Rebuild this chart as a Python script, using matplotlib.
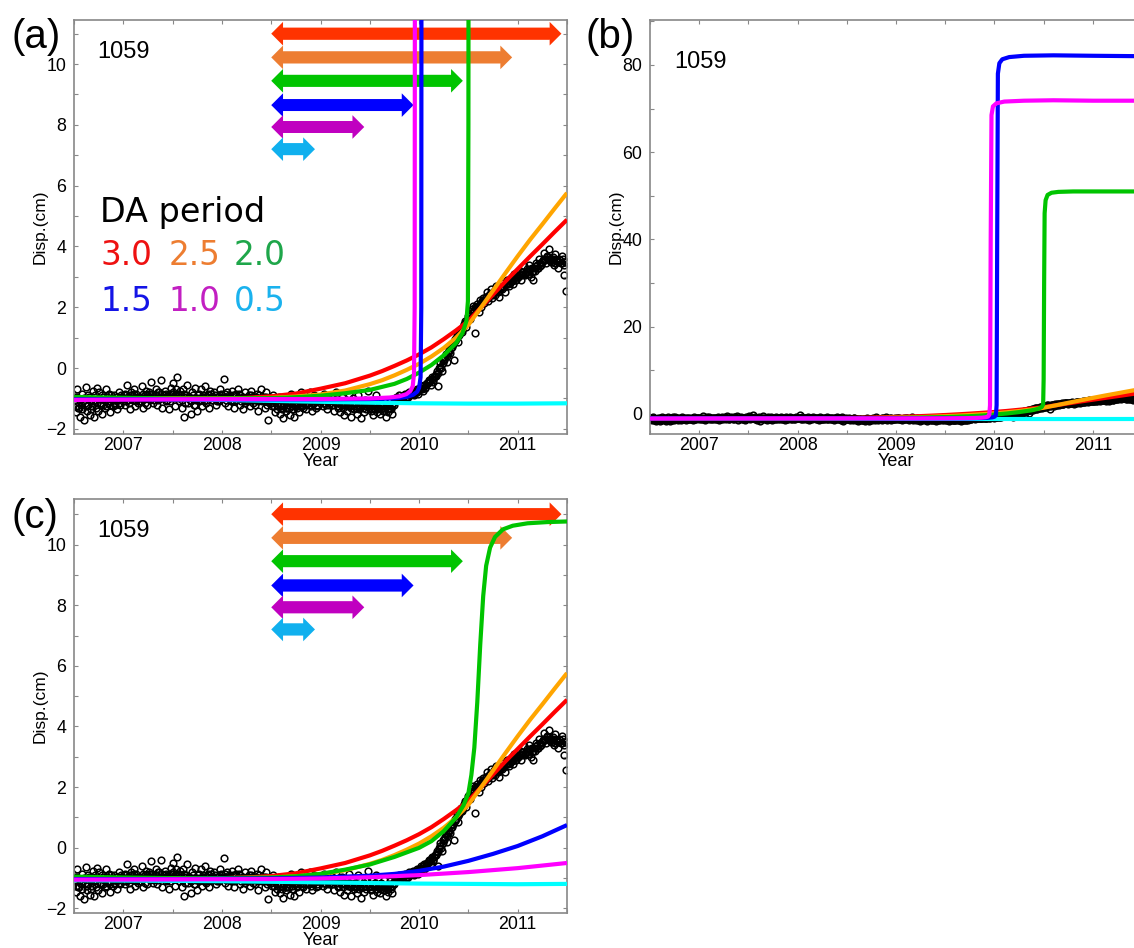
import matplotlib
matplotlib.use('Agg')
import matplotlib.pyplot as plt
import numpy as np
from matplotlib.patches import FancyArrowPatch, ArrowStyle
from matplotlib.ticker import MultipleLocator, FuncFormatter

plt.rcParams.update({
    'font.family': ['Liberation Sans', 'DejaVu Sans'],
    'font.size': 12.5,
    'axes.linewidth': 1.2,
})

# ---------------- data ----------------
# GPS observations, evenly sampled from mid-2006 to mid-2011 (6 per month, two interleaved sets)
OBS_START, OBS_END = 2006.5, 2011.5
OBS_DISP = [
    -0.95, -1.45, -0.70, -1.30, -1.60, -0.85,
    -1.10, -1.70, -0.62, -1.25, -0.90, -1.55,
    -1.35, -0.75, -1.60, -1.05, -0.65, -1.40,
    -0.80, -1.20, -1.50, -0.95, -1.30, -0.70,
    -1.15, -0.85, -1.45, -1.00, -1.25, -0.90,
    -1.05, -1.35, -0.80, -1.20, -0.95, -1.10,
    -0.90, -1.20, -0.55, -1.05, -1.35, -0.80,
    -1.00, -0.70, -1.25, -0.85, -1.15, -0.95,
    -1.10, -0.60, -1.30, -0.90, -0.75, -1.20,
    -0.85, -1.05, -0.45, -1.15, -0.95, -0.70,
    -1.20, -0.80, -1.00, -0.40, -1.30, -0.90,
    -0.75, -1.10, -0.95, -1.35, -0.65, -1.00,
    -0.50, -1.25, -0.85, -0.30, -1.10, -0.95,
    -1.30, -0.70, -1.60, -0.90, -0.55, -1.15,
    -1.05, -1.50, -0.80, -1.20, -0.65, -1.40,
    -0.90, -1.10, -0.70, -1.25, -0.95, -0.60,
    -1.15, -0.85, -1.30, -0.75, -1.05, -0.95,
    -0.80, -1.20, -0.95, -1.10, -0.70, -1.00,
    -0.95, -0.35, -1.15, -0.80, -1.25, -1.00,
    -1.10, -0.75, -1.30, -0.90, -1.05, -0.70,
    -0.85, -1.20, -1.00, -1.35, -0.80, -1.10,
    -1.05, -0.90, -1.25, -0.75, -1.15, -0.95,
    -1.20, -0.85, -1.40, -1.00, -0.70, -1.10,
    -0.95, -1.30, -0.80, -1.70, -1.10, -1.00,
    -1.25, -0.90, -1.45, -1.10, -1.35, -0.95,
    -1.50, -1.20, -1.65, -1.05, -1.40, -1.30,
    -1.10, -1.55, -0.85, -1.35, -1.60, -1.20,
    -1.30, -1.00, -1.45, -0.80, -1.25, -1.15,
    -1.05, -1.35, -0.95, -1.20, -0.80, -1.40,
    -1.15, -0.90, -1.30, -1.05, -1.25, -0.95,
    -1.00, -1.25, -0.85, -1.15, -1.35, -0.95,
    -1.20, -0.90, -1.10, -1.40, -1.05, -0.80,
    -1.30, -1.05, -1.45, -0.95, -1.20, -1.55,
    -1.10, -1.40, -0.85, -1.25, -1.60, -1.00,
    -1.35, -1.15, -1.50, -0.90, -1.30, -1.65,
    -1.20, -1.45, -1.05, -1.35, -0.75, -1.25,
    -1.40, -1.10, -1.55, -1.25, -0.90, -1.45,
    -1.30, -1.50, -1.15, -1.40, -1.05, -1.60,
    -1.25, -1.45, -1.10, -1.35, -1.50, -1.20,
    -1.05, -0.95, -1.00, -0.90, -1.00, -0.95,
    -0.95, -0.85, -0.90, -1.00, -0.80, -0.90,
    -0.85, -0.75, -0.90, -0.80, -0.70, -0.85,
    -0.70, -0.60, -0.75, -0.55, -0.65, -0.50,
    -0.50, -0.40, -0.55, -0.30, -0.45, -0.25,
    -0.20, -0.60, 0.00, 0.15, -0.10, 0.25,
    0.30, 0.45, 0.20, 0.60, 0.50, 0.75,
    0.80, 0.25, 0.95, 1.10, 0.85, 1.25,
    1.30, 1.20, 1.45, 1.55, 1.35, 1.70,
    1.75, 1.60, 1.95, 2.05, 1.15, 1.90,
    2.10, 1.85, 2.25, 2.00, 2.30, 2.15,
    2.35, 2.50, 2.20, 2.45, 2.60, 2.30,
    2.55, 2.40, 2.70, 2.50, 2.35, 2.65,
    2.60, 2.80, 2.50, 2.75, 2.90, 2.70,
    2.85, 3.00, 2.75, 3.10, 2.90, 3.05,
    3.00, 3.20, 2.90, 3.15, 3.35, 3.05,
    3.25, 3.10, 3.40, 3.00, 3.30, 2.90,
    3.20, 3.45, 3.30, 3.60, 3.35, 3.50,
    3.55, 3.80, 3.45, 3.70, 3.90, 3.60,
    3.50, 3.65, 3.40, 3.75, 3.55, 3.30,
    3.60, 3.45, 3.70, 3.05, 3.50, 2.55,
]
OBS_DISP_B = [
    -1.10, -1.25, -0.95, -1.30, -1.05, -1.20,
    -1.35, -1.00, -1.15, -1.40, -1.20, -0.95,
    -1.05, -1.25, -1.10, -0.90, -1.30, -1.15,
    -1.00, -1.15, -0.90, -1.20, -1.05, -1.25,
    -0.95, -1.10, -1.20, -0.90, -1.05, -1.15,
    -1.20, -0.95, -1.05, -1.15, -0.90, -1.00,
    -1.00, -0.85, -1.10, -0.95, -1.15, -0.90,
    -0.90, -1.05, -0.85, -1.10, -0.95, -1.00,
    -0.95, -1.10, -0.85, -1.00, -1.15, -0.90,
    -1.00, -0.80, -0.95, -0.85, -1.05, -0.90,
    -0.90, -1.05, -0.80, -0.95, -0.85, -1.00,
    -0.95, -0.85, -1.05, -0.90, -1.10, -0.85,
    -0.80, -0.95, -0.70, -1.00, -0.85, -0.75,
    -0.90, -1.05, -0.85, -1.15, -0.95, -1.00,
    -0.95, -1.10, -1.00, -0.90, -1.20, -1.05,
    -1.00, -0.85, -1.05, -0.95, -0.90, -1.10,
    -0.95, -1.05, -0.90, -1.00, -0.85, -1.05,
    -1.00, -0.90, -1.10, -0.95, -1.05, -0.85,
    -0.90, -1.00, -0.85, -1.05, -0.95, -0.90,
    -0.95, -1.05, -0.90, -1.10, -0.85, -1.00,
    -1.00, -0.90, -1.10, -0.95, -1.05, -1.15,
    -0.95, -1.10, -1.00, -0.90, -1.05, -0.95,
    -1.05, -0.95, -1.10, -0.90, -1.00, -1.05,
    -1.00, -1.10, -0.95, -1.20, -1.05, -1.15,
    -1.15, -1.05, -1.25, -1.10, -1.20, -1.00,
    -1.25, -1.15, -1.35, -1.20, -1.10, -1.30,
    -1.20, -1.30, -1.10, -1.25, -1.35, -1.15,
    -1.15, -1.25, -1.05, -1.20, -1.10, -1.30,
    -1.10, -1.20, -1.00, -1.15, -1.05, -1.25,
    -1.05, -1.15, -1.00, -1.20, -1.10, -1.05,
    -1.10, -1.00, -1.15, -1.05, -1.20, -1.10,
    -1.05, -1.15, -1.00, -1.20, -1.10, -1.15,
    -1.15, -1.25, -1.10, -1.20, -1.30, -1.15,
    -1.20, -1.10, -1.25, -1.15, -1.30, -1.20,
    -1.25, -1.15, -1.30, -1.20, -1.35, -1.25,
    -1.20, -1.30, -1.15, -1.25, -1.10, -1.30,
    -1.25, -1.35, -1.20, -1.30, -1.15, -1.35,
    -1.30, -1.20, -1.35, -1.25, -1.40, -1.30,
    -1.25, -1.35, -1.20, -1.30, -1.25, -1.15,
    -1.00, -1.05, -0.95, -1.00, -1.05, -0.95,
    -0.95, -0.90, -0.95, -0.85, -0.95, -0.90,
    -0.85, -0.80, -0.85, -0.75, -0.80, -0.75,
    -0.70, -0.65, -0.70, -0.60, -0.65, -0.55,
    -0.50, -0.45, -0.40, -0.35, -0.40, -0.30,
    -0.25, -0.10, -0.15, 0.05, 0.00, 0.15,
    0.25, 0.35, 0.40, 0.50, 0.55, 0.65,
    0.70, 0.80, 0.90, 0.95, 1.05, 1.10,
    1.20, 1.25, 1.35, 1.40, 1.50, 1.55,
    1.65, 1.70, 1.80, 1.85, 1.90, 2.00,
    2.00, 2.05, 2.10, 2.15, 2.20, 2.25,
    2.25, 2.35, 2.30, 2.40, 2.45, 2.40,
    2.45, 2.55, 2.50, 2.60, 2.55, 2.60,
    2.65, 2.70, 2.65, 2.75, 2.80, 2.75,
    2.80, 2.90, 2.85, 2.95, 2.90, 3.00,
    3.00, 3.05, 3.10, 3.05, 3.15, 3.10,
    3.15, 3.20, 3.10, 3.25, 3.15, 3.20,
    3.30, 3.35, 3.40, 3.30, 3.45, 3.40,
    3.50, 3.60, 3.55, 3.65, 3.60, 3.55,
    3.55, 3.50, 3.60, 3.45, 3.55, 3.50,
    3.50, 3.55, 3.45, 3.60, 3.40, 3.50,
]

# model runs, DA period 3.0 / 2.5 (same in (a),(b),(c))
T_30 = [2006.5, 2007.0, 2007.5, 2008.0, 2008.25, 2008.5, 2008.75, 2009.0, 2009.25,
        2009.5, 2009.625, 2009.75, 2009.875, 2010.0, 2010.125, 2010.25, 2010.375,
        2010.5, 2010.625, 2010.75, 2010.875, 2011.0, 2011.125, 2011.25, 2011.375, 2011.5]
Y_30 = [-1.0, -1.0, -1.0, -1.0, -0.98, -0.93, -0.84, -0.68, -0.5,
        -0.25, -0.1, 0.07, 0.25, 0.45, 0.68, 0.95, 1.24,
        1.55, 1.98, 2.42, 2.85, 3.26, 3.67, 4.07, 4.48, 4.88]
T_25 = T_30
Y_25 = [-1.0, -1.0, -1.0, -1.0, -0.99, -0.98, -0.94, -0.87, -0.74,
        -0.53, -0.4, -0.24, -0.06, 0.14, 0.38, 0.66, 1.0,
        1.42, 1.98, 2.55, 3.12, 3.68, 4.22, 4.73, 5.25, 5.76]

# run shown in (a) and (b)
T_20A = [2006.5, 2007.0, 2007.5, 2008.0, 2008.5, 2008.75, 2009.0, 2009.25, 2009.5,
         2009.75, 2009.875, 2010.0, 2010.125, 2010.25, 2010.375, 2010.44, 2010.48,
         2010.495, 2010.5, 2010.505, 2010.51, 2010.52, 2010.54, 2010.58, 2010.65,
         2010.8, 2011.0, 2011.5]
Y_20A = [-0.95, -0.98, -1.0, -1.0, -0.99, -0.96, -0.91, -0.83, -0.72,
         -0.52, -0.36, -0.15, 0.1, 0.42, 0.82, 1.15, 1.55,
         2.2, 8.0, 30.0, 46.0, 49.0, 50.2, 50.7, 50.9,
         51.0, 51.0, 51.0]
T_15A = [2006.5, 2007.5, 2008.5, 2009.0, 2009.5, 2009.75, 2009.875, 2009.94, 2009.98,
         2010.0, 2010.015, 2010.022, 2010.028, 2010.035, 2010.05, 2010.08, 2010.15,
         2010.3, 2010.6, 2011.0, 2011.5]
Y_15A = [-1.03, -1.03, -1.03, -1.03, -1.02, -1.0, -0.95, -0.88, -0.78,
         -0.65, -0.3, 2.0, 40.0, 78.0, 80.4, 81.3, 81.8,
         82.1, 82.2, 82.1, 82.0]
T_10A = [2006.5, 2007.5, 2008.5, 2009.0, 2009.5, 2009.7, 2009.8, 2009.87, 2009.91,
         2009.935, 2009.948, 2009.955, 2009.962, 2009.97, 2009.985, 2010.02, 2010.1,
         2010.3, 2010.6, 2011.0, 2011.5]
Y_10A = [-1.05, -1.03, -1.02, -1.02, -1.0, -0.97, -0.93, -0.86, -0.76,
         -0.6, -0.2, 2.0, 40.0, 68.5, 70.5, 71.2, 71.6,
         71.8, 71.9, 71.8, 71.8]
T_05A = [2006.5, 2007.0, 2007.5, 2008.0, 2008.5, 2009.0, 2009.5, 2010.0, 2010.5, 2011.0, 2011.5]
Y_05A = [-1.0, -1.01, -1.03, -1.05, -1.08, -1.11, -1.14, -1.16, -1.17, -1.17, -1.16]

# run shown in (c)
T_20C = [2006.5, 2007.0, 2007.5, 2008.0, 2008.5, 2008.75, 2009.0, 2009.25, 2009.5,
         2009.75, 2010.0, 2010.125, 2010.25, 2010.375, 2010.45, 2010.5, 2010.53,
         2010.56, 2010.59, 2010.62, 2010.65, 2010.68, 2010.72, 2010.77, 2010.85,
         2010.95, 2011.1, 2011.3, 2011.5]
Y_20C = [-0.95, -0.98, -1.0, -1.0, -0.98, -0.94, -0.86, -0.72, -0.55,
         -0.3, 0.0, 0.22, 0.55, 1.0, 1.4, 1.8, 2.4,
         3.3, 4.8, 6.7, 8.3, 9.3, 9.9, 10.25, 10.5,
         10.62, 10.7, 10.74, 10.76]
T_15C = [2006.5, 2007.0, 2007.5, 2008.0, 2008.5, 2009.0, 2009.5, 2009.75, 2010.0,
         2010.25, 2010.5, 2010.75, 2011.0, 2011.25, 2011.5]
Y_15C = [-1.03, -1.03, -1.03, -1.02, -1.01, -0.98, -0.92, -0.86, -0.76,
         -0.62, -0.43, -0.2, 0.06, 0.38, 0.75]
T_10C = [2006.5, 2007.5, 2008.5, 2009.0, 2009.5, 2010.0, 2010.5, 2011.0, 2011.5]
Y_10C = [-1.05, -1.04, -1.03, -1.01, -0.97, -0.9, -0.8, -0.67, -0.5]
T_05C = [2006.5, 2007.0, 2007.5, 2008.0, 2008.5, 2009.0, 2009.5, 2010.0, 2010.5, 2011.0, 2011.5]
Y_05C = [-1.07, -1.08, -1.09, -1.1, -1.12, -1.14, -1.16, -1.18, -1.19, -1.2, -1.19]

# DA windows (arrows)
DA_START = 2008.5
DA_PERIODS = [3.0, 2.5, 2.0, 1.5, 1.0, 0.5]
DA_LABELS = ['3.0', '2.5', '2.0', '1.5', '1.0', '0.5']
ARROW_Y = [11.0, 10.22, 9.45, 8.65, 7.93, 7.2]

LINE_COLORS = ['#ff0000', '#ffa500', '#00c400', '#0000ff', '#ff00ff', '#00ffff']
ARROW_COLORS = ['#ff3300', '#ed7d31', '#00c400', '#0000ff', '#c000c0', '#10b0ee']
TEXT_COLORS = ['#ee1111', '#ed7d31', '#1ea64a', '#1414e6', '#c21fc2', '#1ab2ee']
SPINE = '#888888'

obs_step = (OBS_END - OBS_START) / len(OBS_DISP)
obs_t = OBS_START + (np.arange(len(OBS_DISP)) + 0.5) * obs_step
obs_t_b = OBS_START + np.arange(len(OBS_DISP_B)) * obs_step + 0.1 * obs_step


def style_axes(ax, ylim, ymaj, ymin):
    ax.set_xlim(2006.5, 2011.5)
    ax.set_ylim(*ylim)
    ax.xaxis.set_major_locator(MultipleLocator(1))
    ax.xaxis.set_minor_locator(MultipleLocator(0.5))
    ax.yaxis.set_major_locator(MultipleLocator(ymaj))
    ax.yaxis.set_minor_locator(MultipleLocator(ymin))
    ax.xaxis.set_major_formatter(FuncFormatter(lambda v, p: f'{v:.0f}'))
    ax.tick_params(which='both', direction='in', top=True, right=True,
                   length=3, width=0.8, color=SPINE, labelsize=12.8)
    ax.tick_params(axis='x', pad=2.5)
    ax.tick_params(axis='y', pad=5.5)
    for s in ax.spines.values():
        s.set_color(SPINE)
        s.set_linewidth(1.2)
    ax.set_xlabel('Year', fontsize=13)
    ax.xaxis.set_label_coords(0.5, -0.047)
    ax.set_ylabel('Disp.(cm)', fontsize=12.5)
    ax.yaxis.set_label_coords(-0.053, 0.5)


def draw_runs(ax, runs):
    for t, y in ((obs_t, OBS_DISP), (obs_t_b, OBS_DISP_B)):
        ax.plot(t, y, 'o', ms=4.8, mfc='none', mec='k', mew=1.1, zorder=2)
    # cyan first, magenta last (on top)
    for i in [5, 0, 1, 2, 3, 4]:
        t, y = runs[i]
        ax.plot(t, y, color=LINE_COLORS[i], lw=3, solid_capstyle='butt', zorder=3)


def draw_arrows(ax):
    head = 8.5
    style = ArrowStyle.Simple(head_length=head, head_width=17, tail_width=8.5)
    for period, y, col in zip(DA_PERIODS, ARROW_Y, ARROW_COLORS):
        x0, x1 = DA_START, DA_START + period
        # each head gets its own patch, the shafts overlap completely
        for xa, xb, sa, sb in ((x1, x0, head + 4, 0), (x0, x1, head, 4)):
            ax.add_patch(FancyArrowPatch((xa, y), (xb, y), arrowstyle=style,
                                         mutation_scale=1, shrinkA=sa, shrinkB=sb,
                                         lw=0, color=col, zorder=1.5))


runs_ab = [(T_30, Y_30), (T_25, Y_25), (T_20A, Y_20A),
           (T_15A, Y_15A), (T_10A, Y_10A), (T_05A, Y_05A)]
runs_c = [(T_30, Y_30), (T_25, Y_25), (T_20C, Y_20C),
          (T_15C, Y_15C), (T_10C, Y_10C), (T_05C, Y_05C)]

fig = plt.figure(figsize=(11.34, 9.48), dpi=100)
ax_a = fig.add_axes([0.0653, 0.5422, 0.4347, 0.4367])
ax_b = fig.add_axes([0.5732, 0.5422, 0.4339, 0.4367])
ax_c = fig.add_axes([0.0653, 0.0369, 0.4347, 0.4367])

# (a)
draw_runs(ax_a, runs_ab)
draw_arrows(ax_a)
style_axes(ax_a, (-2.17, 11.45), 2, 1)
ax_a.text(0.047, 0.923, '1059', transform=ax_a.transAxes, fontsize=17, va='center')
ax_a.text(0.052, 0.534, 'DA period', transform=ax_a.transAxes, fontsize=24,
          va='center', family='DejaVu Sans')
label_x = [0.054, 0.192, 0.324]
label_y = [0.430, 0.319]
for k, (lab, col) in enumerate(zip(DA_LABELS, TEXT_COLORS)):
    ax_a.text(label_x[k % 3], label_y[k // 3], lab, transform=ax_a.transAxes,
              fontsize=23.5, color=col, va='center', family='DejaVu Sans')

# (b)
draw_runs(ax_b, runs_ab)
style_axes(ax_b, (-4.6, 90.3), 20, 10)
ax_b.text(0.049, 0.899, '1059', transform=ax_b.transAxes, fontsize=17, va='center')

# (c)
draw_runs(ax_c, runs_c)
draw_arrows(ax_c)
style_axes(ax_c, (-2.15, 11.5), 2, 1)
ax_c.text(0.047, 0.923, '1059', transform=ax_c.transAxes, fontsize=17, va='center')

for lab, x, y in (('(a)', 36, 37), ('(b)', 610, 37), ('(c)', 35, 517)):
    fig.text(x / 1134, 1 - y / 948, lab, fontsize=29, ha='center', va='center')

fig.savefig('out.png', dpi=100)
